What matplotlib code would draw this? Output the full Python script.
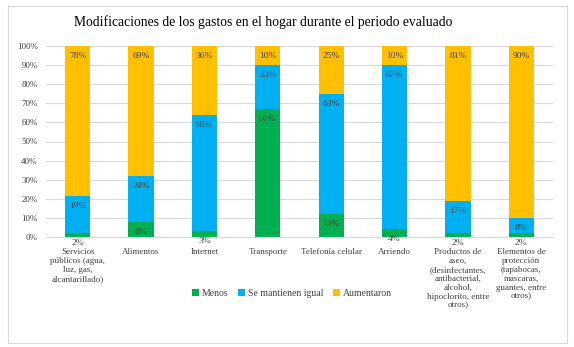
import matplotlib

matplotlib.use("Agg")
import matplotlib.pyplot as plt
import numpy as np
from matplotlib.patches import Rectangle
from matplotlib.ticker import PercentFormatter

plt.rcParams["font.family"] = ["Liberation Serif", "DejaVu Serif"]

categories = [
    "Servicios\npúblicos (agua,\nluz, gas,\nalcantarillado)",
    "Alimentos",
    "Internet",
    "Transporte",
    "Telefonía celular",
    "Arriendo",
    "Productos de\naseo,\n(desinfectantes,\nantibacterial,\nalcohol,\nhipoclorito, entre\notros)",
    "Elementos de\nprotección\n(tapabocas,\nmascaras,\nguantes, entre\notros)",
]
menos = [2, 8, 3, 67, 12, 4, 2, 2]
igual = [19, 24, 60, 23, 63, 87, 17, 8]
aumentaron = [78, 69, 36, 10, 25, 10, 81, 90]

series = [
    ("Menos", menos, "#00B050"),
    ("Se mantienen igual", igual, "#00B0F0"),
    ("Aumentaron", aumentaron, "#FFC000"),
]

fig = plt.figure(figsize=(5.74, 3.47), dpi=100)
fig.patches.append(Rectangle((8 / 574, 4 / 347), 559 / 574, 337 / 347, transform=fig.transFigure,
                             fill=False, edgecolor="#D9D9D9", linewidth=0.8))
ax = fig.add_axes([46 / 574, 110 / 347, 507 / 574, 191 / 347])

x = np.arange(len(categories))
totals = np.array(menos) + np.array(igual) + np.array(aumentaron)
bottom = np.zeros(len(categories))
for name, vals, color in series:
    h = np.array(vals) / totals * 100
    ax.bar(x, h, 0.4, bottom=bottom, color=color, label=name, zorder=2)
    top = bottom + h
    for xi, t, v in zip(x, top, vals):
        ax.text(xi, t - 5.2, f"{v}%", ha="center", va="center", fontsize=6.8, color="#404040", zorder=3)
    bottom = top

ax.set_xlim(-0.5, len(categories) - 0.5)
ax.set_ylim(0, 100)
ax.set_yticks(np.arange(0, 101, 10))
ax.yaxis.set_major_formatter(PercentFormatter(decimals=0))
ax.set_xticks(x)
ax.set_xticklabels(categories, fontsize=6.5, color="#404040", linespacing=1.15, va="top")
ax.tick_params(axis="y", labelsize=6.5, labelcolor="#404040", length=0, pad=6)
ax.tick_params(axis="x", length=0, pad=8)
ax.grid(axis="y", color="#D9D9D9", linewidth=0.8, zorder=0)
for s in ["top", "right", "left"]:
    ax.spines[s].set_visible(False)
ax.spines["bottom"].set_color("#D9D9D9")

fig.text(263 / 574, 1 - 22 / 347, "Modificaciones de los gastos en el hogar durante el periodo evaluado",
         ha="center", va="center", fontsize=9.8, color="#000000")

fig.legend(loc="center", bbox_to_anchor=(292 / 574, 1 - 293 / 347), ncol=3, frameon=False,
           fontsize=7, handlelength=0.7, handleheight=0.7, handletextpad=0.3, columnspacing=1.0,
           labelcolor="#404040")

fig.savefig("out.png", dpi=100)
